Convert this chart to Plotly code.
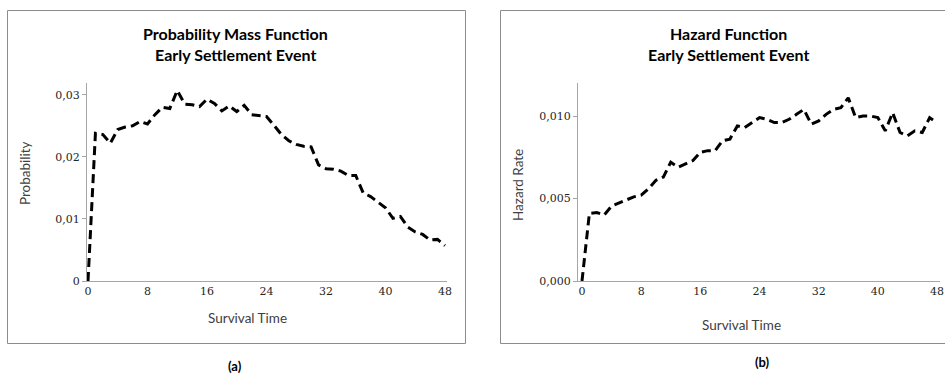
import plotly.graph_objects as go

W, H = 945, 374

survival_time = list(range(0, 49))

pmf = [0.0, 0.0238, 0.0236, 0.0222, 0.0244, 0.0248, 0.0250, 0.0257, 0.0253, 0.0268,
       0.0280, 0.0278, 0.0307, 0.0285, 0.0284, 0.0281, 0.0293, 0.0286, 0.0274, 0.0282,
       0.0273, 0.0283, 0.0268, 0.0266, 0.0265, 0.0251, 0.0236, 0.0226, 0.0220, 0.0217,
       0.0216, 0.0187, 0.0181, 0.0180, 0.0177, 0.0170, 0.0170, 0.0142, 0.0136, 0.0127,
       0.0118, 0.0101, 0.0104, 0.0087, 0.0079, 0.0075, 0.0066, 0.0067, 0.0057]

hazard = [0.0, 0.0041, 0.00415, 0.0040, 0.00454, 0.00474, 0.0049, 0.0051, 0.0052, 0.0056,
          0.0061, 0.0063, 0.0072, 0.0069, 0.0071, 0.0073, 0.0078, 0.0079, 0.0079, 0.0085,
          0.0086, 0.0094, 0.0093, 0.0096, 0.0099, 0.0098, 0.0096, 0.0096, 0.0098, 0.0101,
          0.0104, 0.0095, 0.0097, 0.0101, 0.0104, 0.0105, 0.0111, 0.0099, 0.0100, 0.0100,
          0.0099, 0.0091, 0.0102, 0.0090, 0.0088, 0.0091, 0.0090, 0.0099, 0.0096]

x_ticks = [0, 8, 16, 24, 32, 40, 48]
pmf_ticks = [0, 0.01, 0.02, 0.03]
pmf_tick_text = ["0", "0,01", "0,02", "0,03"]
haz_ticks = [0, 0.005, 0.010]
haz_tick_text = ["0,000", "0,005", "0,010"]

def px(x):
    return x / W

def py(y):
    return (H - y) / H

line_style = dict(color="black", width=3, dash="9px,5px")

fig = go.Figure()
fig.add_trace(go.Scatter(x=survival_time, y=pmf, mode="lines", line=line_style,
                         xaxis="x", yaxis="y", showlegend=False, cliponaxis=False))
fig.add_trace(go.Scatter(x=survival_time, y=hazard, mode="lines", line=line_style,
                         xaxis="x2", yaxis="y2", showlegend=False, cliponaxis=False))

tick_font = dict(family="DejaVu Serif", size=11, color="#262626")
axis_gray = "#a6a6a6"

common_x = dict(tickvals=x_ticks, ticktext=[str(v) for v in x_ticks], showgrid=False,
                zeroline=False, showline=True, linecolor=axis_gray, linewidth=1,
                ticks="", tickfont=tick_font, fixedrange=True, automargin=False)
common_y = dict(showgrid=False, zeroline=False, showline=True, linecolor=axis_gray,
                linewidth=1, ticks="outside", ticklen=4, tickcolor=axis_gray,
                tickfont=tick_font, fixedrange=True, automargin=False)

fig.update_layout(
    width=W, height=H,
    margin=dict(l=0, r=0, t=0, b=0, autoexpand=False),
    paper_bgcolor="white", plot_bgcolor="white",
    xaxis=dict(domain=[px(87), px(447)], range=[-0.134, 48.27], anchor="y", **common_x),
    yaxis=dict(domain=[py(281), py(83)], range=[0, 0.0319], anchor="x",
               tickvals=pmf_ticks, ticktext=pmf_tick_text, **common_y),
    xaxis2=dict(domain=[px(578), px(940)], range=[-0.54, 48.4], anchor="y2", **common_x),
    yaxis2=dict(domain=[py(281), py(83)], range=[0, 0.0120], anchor="x2",
                tickvals=haz_ticks, ticktext=haz_tick_text, **common_y),
)

frame_color = "#8c8c8c"
fig.add_shape(type="rect", xref="paper", yref="paper",
              x0=px(7.5), x1=px(465.5), y0=py(343.5), y1=py(10.5),
              line=dict(color=frame_color, width=1))
fig.add_shape(type="rect", xref="paper", yref="paper",
              x0=px(500.5), x1=px(950), y0=py(343.5), y1=py(10.5),
              line=dict(color=frame_color, width=1))

title_font = dict(family="Lato", size=16, color="black", weight="bold")
label_font = dict(family="Lato", size=13.5, color="#404040")

def ann(text, x, y, font, angle=0):
    fig.add_annotation(text=text, x=px(x), y=py(y), xref="paper", yref="paper",
                       showarrow=False, xanchor="center", yanchor="middle",
                       font=font, textangle=angle)

ann("Probability Mass Function", 235, 33, title_font)
ann("Early Settlement Event", 235, 54, title_font)
ann("Hazard Function", 728, 33, title_font)
ann("Early Settlement Event", 728, 54, title_font)

ann("Probability", 25, 173, label_font, -90)
ann("Survival Time", 247, 318, label_font)
ann("Hazard Rate", 518, 185, label_font, -90)
ann("Survival Time", 741, 325, label_font)

ann("(a)", 235, 366, dict(family="Lato", size=13, color="black", weight="bold"))
ann("(b)", 762, 362, dict(family="Lato", size=13, color="black", weight="bold"))

fig.write_html(
    "out.html",
    config={"displayModeBar": False, "staticPlot": True},
    post_script="document.body.style.margin='0';document.body.style.overflow='hidden';",
)
